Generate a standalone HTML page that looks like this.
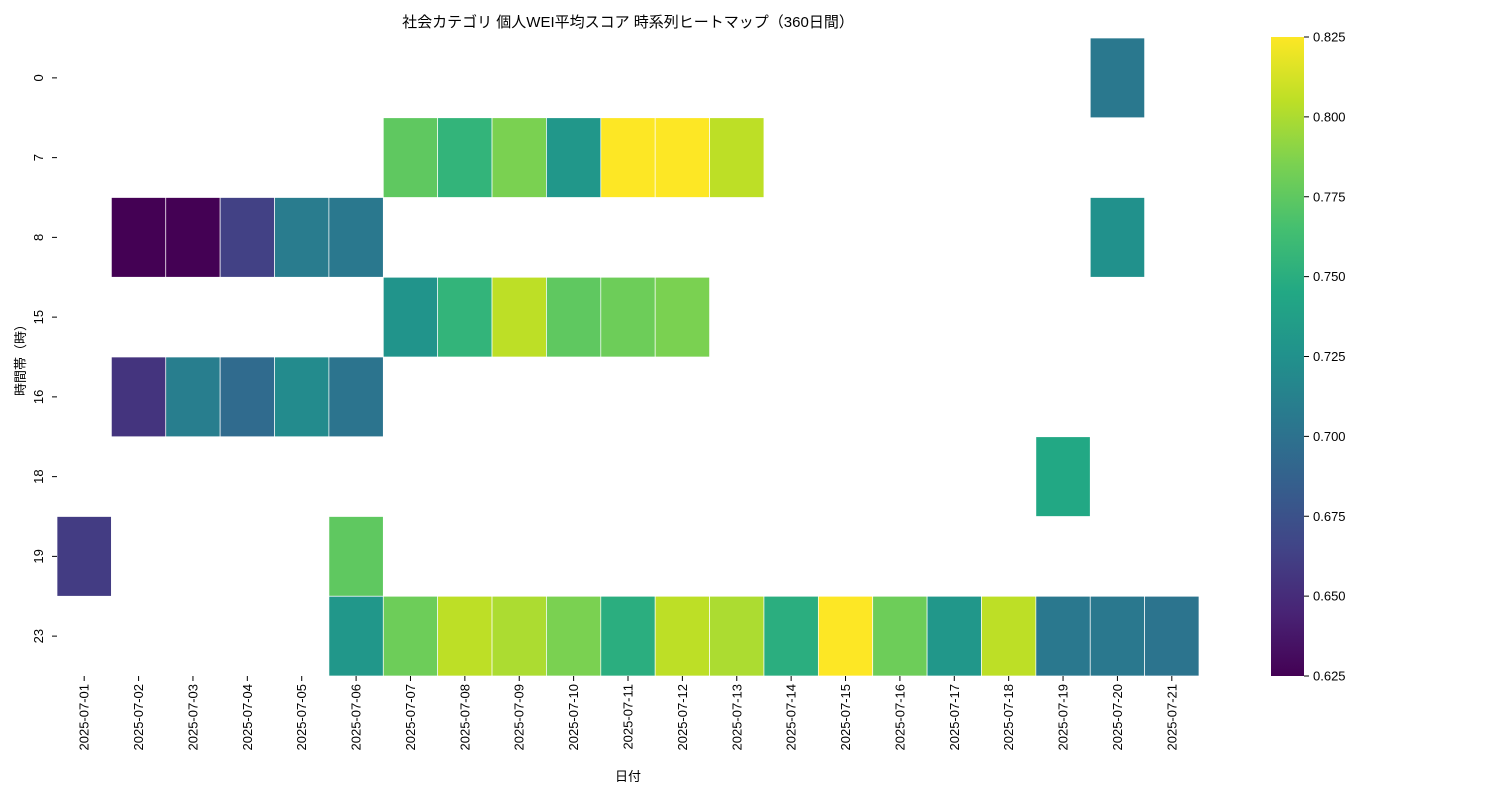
<!DOCTYPE html>
<html><head><meta charset="utf-8"><style>
html,body{margin:0;padding:0;background:#fff;}
svg{display:block;font-family:"Liberation Sans","Noto Sans CJK JP",sans-serif;}
</style></head><body>
<svg id="chart" width="1500" height="800" viewBox="0 0 1500 800" xmlns="http://www.w3.org/2000/svg">
<defs>
<linearGradient id="vir" x1="0" y1="1" x2="0" y2="0">
<stop offset="0" stop-color="#440154"/><stop offset="0.1" stop-color="#482475"/><stop offset="0.2" stop-color="#414487"/><stop offset="0.3" stop-color="#355f8d"/><stop offset="0.4" stop-color="#2a788e"/><stop offset="0.5" stop-color="#21918c"/><stop offset="0.6" stop-color="#22a884"/><stop offset="0.7" stop-color="#44bf70"/><stop offset="0.8" stop-color="#7ad151"/><stop offset="0.9" stop-color="#bddf26"/><stop offset="1" stop-color="#fde725"/>
</linearGradient>
</defs>
<text x="628" y="27" font-size="15" text-anchor="middle">社会カテゴリ 個人WEI平均スコア 時系列ヒートマップ（360日間）</text>
<g id="cells"></g>
<g id="xticks"></g>
<g id="yticks"></g>
<text x="628" y="781" font-size="13" text-anchor="middle">日付</text>
<text transform="translate(25,357) rotate(-90)" font-size="13" text-anchor="middle">時間帯（時）</text>
<rect x="1271" y="37" width="33" height="639" fill="url(#vir)"/>
<g id="cbticks"></g>
</svg>
<script>
const dates=["2025-07-01","2025-07-02","2025-07-03","2025-07-04","2025-07-05","2025-07-06","2025-07-07","2025-07-08","2025-07-09","2025-07-10","2025-07-11","2025-07-12","2025-07-13","2025-07-14","2025-07-15","2025-07-16","2025-07-17","2025-07-18","2025-07-19","2025-07-20","2025-07-21"];
const hours=["0","7","8","15","16","18","19","23"];
const N=null;
const row0 =[N,N,N,N,N,N,N,N,N,N,N,N,N,N,N,N,N,N,N,0.705,N];
const row7 =[N,N,N,N,N,N,0.775,0.755,0.785,0.730,0.825,0.825,0.805,N,N,N,N,N,N,N,N];
const row8 =[N,0.625,0.625,0.663,0.708,0.705,N,N,N,N,N,N,N,N,N,N,N,N,N,0.725,N];
const row15=[N,N,N,N,N,N,0.728,0.755,0.805,0.775,0.780,0.785,N,N,N,N,N,N,N,N,N];
const row16=[N,0.655,0.710,0.695,0.720,0.702,N,N,N,N,N,N,N,N,N,N,N,N,N,N,N];
const row18=[N,N,N,N,N,N,N,N,N,N,N,N,N,N,N,N,N,N,0.745,N,N];
const row19=[0.660,N,N,N,N,0.775,N,N,N,N,N,N,N,N,N,N,N,N,N,N,N];
const row23=[N,N,N,N,N,0.730,0.780,0.805,0.800,0.785,0.750,0.805,0.800,0.750,0.825,0.780,0.730,0.805,0.705,0.705,0.702];
const cbTicks=[0.625,0.650,0.675,0.700,0.725,0.750,0.775,0.800,0.825];
const rows=[row0,row7,row8,row15,row16,row18,row19,row23];
const vmin=0.625,vmax=0.825;
const X0=57,X1=1199,Y0=38,Y1=676;
const cw=(X1-X0)/dates.length, ch=(Y1-Y0)/hours.length;
const xs=i=>X0+i*cw, ys=j=>Y0+j*ch;
const cbY=v=>676-(v-vmin)/(vmax-vmin)*639;
const stops=["#440154","#482475","#414487","#355f8d","#2a788e","#21918c","#22a884","#44bf70","#7ad151","#bddf26","#fde725"].map(h=>[1,3,5].map(k=>parseInt(h.substr(k,2),16)));
function vir(v){let t=Math.max(0,Math.min(1,(v-vmin)/(vmax-vmin)))*10;let i=Math.min(9,Math.floor(t)),f=t-i;const a=stops[i],b=stops[i+1];return "rgb("+a.map((c,k)=>Math.round(c+(b[k]-c)*f)).join(",")+")";}
const NS="http://www.w3.org/2000/svg";
function mk(tag,attrs,parent){const e=document.createElementNS(NS,tag);for(const k in attrs)e.setAttribute(k,attrs[k]);parent.appendChild(e);return e;}
const cells=document.getElementById("cells");
rows.forEach((r,j)=>r.forEach((v,i)=>{if(v===null)return;
const e=mk("rect",{x:xs(i),y:ys(j),width:cw,height:ch,fill:vir(v),stroke:"#fff","stroke-width":0.7},cells);

}));
const xt=document.getElementById("xticks");
dates.forEach((d,i)=>{const x=xs(i)+cw/2;
const l=mk("line",{x1:x,y1:Y1,x2:x,y2:Y1+5,stroke:"#000","stroke-width":1},xt);


const t=mk("text",{transform:`translate(${x+4.5},${Y1+8}) rotate(-90)`,"font-size":13,"text-anchor":"end"},xt);t.textContent=d;

});
const yt=document.getElementById("yticks");
hours.forEach((h,j)=>{const y=ys(j)+ch/2;
const l=mk("line",{x1:X0-5,y1:y,x2:X0,y2:y,stroke:"#000","stroke-width":1},yt);


const t=mk("text",{transform:`translate(${X0-14},${y}) rotate(-90)`,"font-size":13,"text-anchor":"middle"},yt);t.textContent=h;

});
const cb=document.getElementById("cbticks");
cbTicks.forEach(v=>{const y=cbY(v);
const l=mk("line",{x1:1304,y1:y,x2:1309,y2:y,stroke:"#000","stroke-width":1},cb);


const t=mk("text",{x:1313,y:y+4.5,"font-size":13},cb);t.textContent=v.toFixed(3);

});
</script>
</body></html>
